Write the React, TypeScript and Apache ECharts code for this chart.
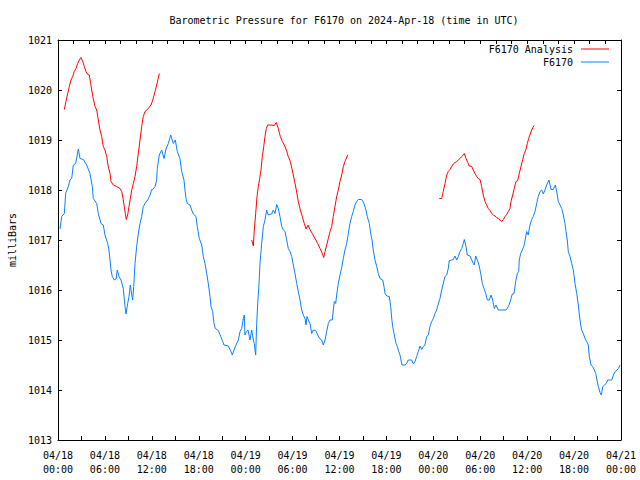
import React, { useEffect, useRef } from "react";
import * as echarts from "echarts";

// Hours since 2024-04-18 00:00 UTC
const stationHours = [
  0.26, 0.47, 0.81, 0.98, 1.32, 1.53, 1.75, 1.96, 2.26, 2.6, 2.81, 3.24, 3.67, 4.09, 4.39, 4.51, 4.95, 5.15, 5.5, 5.79,
  6.01, 6.36, 6.52, 6.65, 6.78, 6.94, 7.2, 7.42, 7.58, 7.8, 8.06, 8.35, 8.57, 8.7, 8.91, 9.08, 9.25, 9.43, 9.55, 9.68,
  9.85, 10.06, 10.27, 10.49, 10.7, 10.91, 11.13, 11.47, 11.77, 11.98, 12.06, 12.41, 12.62, 12.7, 12.95, 13.26, 13.56, 13.81, 14.11, 14.41,
  14.75, 15.0, 15.26, 15.6, 15.82, 16.11, 16.24, 16.37, 16.54, 16.88, 17.1, 17.3, 17.65, 17.81, 18.07, 18.38, 18.58, 18.8, 19.02, 19.22,
  19.44, 19.57, 19.78, 19.95, 20.12, 20.5, 20.81, 21.06, 21.23, 21.78, 22.09, 22.29, 22.51, 22.76, 23.06, 23.28, 23.49, 23.7, 23.83, 23.91,
  24.13, 24.3, 24.46, 24.55, 24.77, 24.98, 25.1, 25.28, 25.41, 25.54, 25.71, 25.83, 26.05, 26.26, 26.47, 26.69, 26.89, 27.33, 27.53, 27.75,
  27.97, 28.17, 28.39, 28.61, 28.81, 29.03, 29.25, 29.45, 29.67, 29.89, 30.09, 30.31, 30.53, 30.73, 30.95, 31.17, 31.37, 31.59, 31.72, 31.84,
  32.01, 32.23, 32.44, 32.65, 32.96, 33.21, 33.51, 33.72, 33.93, 34.15, 34.36, 34.57, 34.79, 35.08, 35.21, 35.34, 35.51, 35.64, 35.85, 36.06,
  36.28, 36.49, 36.7, 36.92, 37.13, 37.34, 37.56, 37.76, 37.98, 38.2, 38.4, 38.84, 39.13, 39.39, 39.55, 39.81, 39.99, 40.16, 40.32, 40.54,
  40.76, 40.96, 41.18, 41.53, 41.69, 41.82, 42.04, 42.37, 42.55, 42.68, 42.8, 43.01, 43.23, 43.39, 43.57, 43.74, 43.86, 43.99, 44.38, 44.59,
  44.8, 45.23, 45.44, 45.66, 45.87, 46.08, 46.3, 46.51, 46.72, 46.93, 47.15, 47.36, 47.57, 47.79, 48.0, 48.21, 48.43, 48.63, 48.85, 49.07,
  49.27, 49.49, 49.71, 49.91, 50.04, 50.35, 50.55, 50.77, 50.99, 51.19, 51.41, 51.63, 51.83, 51.96, 52.18, 52.34, 52.69, 52.91, 53.11, 53.24,
  53.42, 53.62, 53.84, 54.06, 54.26, 54.48, 54.7, 54.9, 55.16, 55.38, 55.59, 55.8, 56.01, 56.31, 56.74, 57.29, 57.46, 57.68, 57.89, 58.1,
  58.32, 58.53, 58.74, 58.92, 58.99, 59.17, 59.38, 59.56, 59.72, 59.94, 60.14, 60.36, 60.58, 60.78, 61.0, 61.22, 61.42, 61.64, 61.86, 62.06,
  62.28, 62.5, 62.79, 63.05, 63.34, 63.6, 63.78, 63.98, 64.2, 64.42, 64.62, 64.84, 64.97, 65.13, 65.26, 65.48, 65.7, 65.9, 66.12, 66.34,
  66.54, 66.67, 66.85, 66.97, 67.18, 67.4, 67.61, 67.82, 67.95, 68.17, 68.38, 68.59, 68.77, 68.93, 69.1, 69.32, 69.49, 69.67, 69.88, 70.1,
  70.31, 70.82, 71.03, 71.25, 71.5, 71.67, 71.89,
];
const stationValues = [
  1017.22, 1017.47, 1017.53, 1017.93, 1018.07, 1018.2, 1018.23, 1018.5, 1018.53, 1018.82, 1018.63, 1018.61, 1018.5, 1018.33, 1018.07, 1017.83, 1017.73, 1017.53, 1017.33, 1017.3,
  1017.1, 1016.93, 1016.8, 1016.6, 1016.4, 1016.27, 1016.2, 1016.22, 1016.4, 1016.27, 1016.2, 1016.03, 1015.67, 1015.52, 1015.73, 1015.87, 1016.1, 1015.9, 1015.8, 1016.07,
  1016.53, 1016.87, 1017.13, 1017.33, 1017.47, 1017.67, 1017.73, 1017.8, 1017.9, 1018.01, 1018.0, 1018.07, 1018.2, 1018.43, 1018.7, 1018.8, 1018.63, 1018.82, 1018.93, 1019.1,
  1018.93, 1019.0, 1018.77, 1018.63, 1018.37, 1018.2, 1018.0, 1017.83, 1017.73, 1017.7, 1017.6, 1017.52, 1017.47, 1017.27, 1017.03, 1016.9, 1016.67, 1016.53, 1016.33, 1016.13,
  1015.87, 1015.67, 1015.57, 1015.33, 1015.23, 1015.19, 1015.07, 1014.97, 1014.9, 1014.88, 1014.78, 1014.7, 1014.8, 1014.9, 1015.0, 1015.17, 1015.23, 1015.43, 1015.5, 1015.1,
  1015.17, 1015.2, 1015.07, 1015.0, 1015.2, 1015.0, 1014.93, 1014.7, 1015.33, 1015.73, 1016.13, 1016.53, 1016.93, 1017.27, 1017.4, 1017.6, 1017.5, 1017.52, 1017.6, 1017.53,
  1017.71, 1017.63, 1017.47, 1017.27, 1017.2, 1017.17, 1017.0, 1016.83, 1016.77, 1016.67, 1016.5, 1016.33, 1016.13, 1015.97, 1015.8, 1015.6, 1015.5, 1015.43, 1015.3, 1015.47,
  1015.4, 1015.33, 1015.13, 1015.2, 1015.19, 1015.1, 1015.02, 1015.0, 1014.9, 1015.0, 1015.17, 1015.33, 1015.4, 1015.4, 1015.6, 1015.77, 1015.73, 1015.9, 1016.13, 1016.3,
  1016.45, 1016.63, 1016.8, 1016.93, 1017.13, 1017.33, 1017.47, 1017.57, 1017.7, 1017.77, 1017.81, 1017.81, 1017.73, 1017.6, 1017.47, 1017.33, 1017.13, 1017.0, 1016.8, 1016.6,
  1016.47, 1016.33, 1016.23, 1016.2, 1016.07, 1015.93, 1015.88, 1015.87, 1015.67, 1015.43, 1015.27, 1015.1, 1014.93, 1014.87, 1014.77, 1014.7, 1014.6, 1014.5, 1014.5, 1014.53,
  1014.6, 1014.6, 1014.52, 1014.57, 1014.67, 1014.77, 1014.88, 1014.81, 1014.87, 1014.9, 1015.07, 1015.1, 1015.27, 1015.37, 1015.43, 1015.53, 1015.6, 1015.72, 1015.83, 1016.0,
  1016.13, 1016.27, 1016.3, 1016.43, 1016.59, 1016.6, 1016.61, 1016.68, 1016.6, 1016.67, 1016.77, 1016.83, 1016.93, 1017.01, 1016.87, 1016.7, 1016.68, 1016.6, 1016.53, 1016.5,
  1016.68, 1016.6, 1016.5, 1016.33, 1016.13, 1016.03, 1015.93, 1015.8, 1015.8, 1015.9, 1015.8, 1015.63, 1015.7, 1015.6, 1015.6, 1015.6, 1015.63, 1015.7, 1015.8, 1015.92,
  1015.93, 1016.17, 1016.33, 1016.37, 1016.6, 1016.73, 1016.8, 1016.87, 1016.98, 1017.17, 1017.1, 1017.3, 1017.41, 1017.47, 1017.57, 1017.73, 1017.87, 1017.97, 1018.0, 1017.92,
  1018.0, 1018.1, 1018.2, 1018.01, 1018.01, 1018.1, 1017.97, 1017.77, 1017.7, 1017.63, 1017.5, 1017.33, 1017.17, 1017.0, 1016.77, 1016.67, 1016.53, 1016.4, 1016.13, 1015.93,
  1015.7, 1015.5, 1015.3, 1015.2, 1015.13, 1015.03, 1014.97, 1014.9, 1014.67, 1014.5, 1014.47, 1014.4, 1014.33, 1014.2, 1014.07, 1013.95, 1013.9, 1014.07, 1014.1, 1014.13,
  1014.2, 1014.2, 1014.3, 1014.37, 1014.4, 1014.43, 1014.5,
];

// Analysis: three runs, separated by gaps (null)
const analysisHours = [
  0.81, 1.02, 1.24, 1.45, 1.66, 1.88, 2.08, 2.3, 2.52, 2.72, 2.94, 3.16, 3.36, 3.58, 3.8, 4.0, 4.18, 4.31, 4.51, 4.73,
  4.95, 5.15, 5.37, 5.59, 5.79, 6.01, 6.23, 6.43, 6.65, 6.78, 7.07, 7.51, 7.93, 8.15, 8.35, 8.48, 8.61, 8.73, 8.91, 9.08,
  9.25, 9.43, 9.63, 9.85, 10.06, 10.27, 10.49, 10.7, 10.91, 11.13, 11.55, 11.89, 12.06, 12.24, 12.41, 12.62, 12.96,
  18.0,
  24.77, 24.98, 25.1, 25.28, 25.45, 25.62, 25.79, 25.96, 26.13, 26.31, 26.47, 26.64, 26.82, 27.24, 27.66, 27.92, 28.17, 28.43, 28.69, 28.94,
  29.2, 29.45, 29.71, 29.96, 30.22, 30.48, 30.73, 30.99, 31.24, 31.5, 31.72, 31.97, 32.23, 32.52, 32.87, 33.21, 33.51, 33.8, 33.98, 34.15,
  34.36, 34.57, 34.79, 35.0, 35.21, 35.42, 35.64, 35.85, 36.06, 36.28, 36.49, 36.7, 37.05,
  42.0,
  48.76, 49.07, 49.27, 49.49, 49.71, 49.91, 50.13, 50.35, 50.55, 50.77, 50.99, 51.19, 51.41, 51.63, 51.83, 51.96, 52.18, 52.4, 52.6, 52.91,
  53.11, 53.33, 53.54, 53.75, 53.97, 54.18, 54.39, 54.61, 54.82, 55.03, 55.25, 55.46, 55.67, 55.89, 56.1, 56.31, 56.53, 56.74, 56.95, 57.17,
  57.38, 57.59, 57.8, 57.93, 58.15, 58.35, 58.57, 58.79, 58.99, 59.21, 59.43, 59.63, 59.85, 60.02, 60.19, 60.58, 60.87,
];
const analysisValues: (number | null)[] = [
  1019.61, 1019.77, 1019.93, 1020.07, 1020.2, 1020.27, 1020.37, 1020.43, 1020.53, 1020.6, 1020.65, 1020.57, 1020.47, 1020.37, 1020.31, 1020.3, 1020.13, 1020.0, 1019.83, 1019.67,
  1019.6, 1019.4, 1019.2, 1019.07, 1018.87, 1018.8, 1018.67, 1018.47, 1018.33, 1018.17, 1018.1, 1018.07, 1018.03, 1017.97, 1017.8, 1017.67, 1017.53, 1017.41, 1017.5, 1017.67,
  1017.83, 1018.0, 1018.13, 1018.27, 1018.47, 1018.73, 1019.0, 1019.27, 1019.47, 1019.57, 1019.63, 1019.7, 1019.77, 1019.87, 1019.97, 1020.1, 1020.33,
  null,
  1017.0, 1016.88, 1017.2, 1017.53, 1017.87, 1018.07, 1018.23, 1018.4, 1018.67, 1018.87, 1019.07, 1019.23, 1019.3, 1019.3, 1019.29, 1019.35, 1019.23, 1019.07, 1018.97, 1018.9,
  1018.8, 1018.67, 1018.57, 1018.4, 1018.2, 1018.0, 1017.77, 1017.6, 1017.47, 1017.33, 1017.22, 1017.3, 1017.21, 1017.13, 1017.03, 1016.93, 1016.83, 1016.73, 1016.65, 1016.77,
  1016.9, 1017.03, 1017.17, 1017.27, 1017.47, 1017.67, 1017.87, 1018.0, 1018.17, 1018.3, 1018.47, 1018.57, 1018.7,
  null,
  1017.83, 1017.83, 1017.97, 1018.13, 1018.3, 1018.37, 1018.41, 1018.47, 1018.52, 1018.55, 1018.57, 1018.6, 1018.63, 1018.67, 1018.7, 1018.73, 1018.63, 1018.55, 1018.48, 1018.47,
  1018.4, 1018.33, 1018.27, 1018.23, 1018.21, 1018.07, 1017.9, 1017.77, 1017.7, 1017.63, 1017.59, 1017.53, 1017.5, 1017.48, 1017.45, 1017.43, 1017.4, 1017.37, 1017.41, 1017.47,
  1017.51, 1017.57, 1017.63, 1017.77, 1017.9, 1018.03, 1018.17, 1018.19, 1018.33, 1018.47, 1018.61, 1018.73, 1018.81, 1018.93, 1019.03, 1019.2, 1019.29,
];

const seriesNames = ["F6170 Analysis", "F6170"];
const seriesColors = ["#ff0000", "#0a80ff"];
const startDay = 18;
const yMin = 1013;
const yMax = 1021;

const FONT = "'DejaVu Sans Mono', 'Liberation Mono', monospace";

function formatHour(h: number): string {
  if (h % 6 !== 0) return "";
  const day = startDay + Math.floor(h / 24);
  const hr = h % 24;
  const p = (n: number) => (n < 10 ? "0" + n : "" + n);
  return `04/${p(day)}\n${p(hr)}:00`;
}

export default function App() {
  const ref = useRef<HTMLDivElement>(null);
  useEffect(() => {
    if (!ref.current) return;
    const chart = echarts.init(ref.current, undefined, { renderer: "svg" });
    const black = { color: "#000", width: 1 };
    chart.setOption({
      animation: false,
      backgroundColor: "#fff",
      textStyle: { fontFamily: FONT },
      title: {
        text: "Barometric Pressure for F6170 on 2024-Apr-18 (time in UTC)",
        left: 339,
        top: 10,
        textAlign: "center",
        textStyle: { fontFamily: FONT, fontSize: 10, fontWeight: "normal", color: "#000" },
      },
      legend: {
        data: seriesNames,
        orient: "vertical",
        align: "right",
        right: 31,
        top: 43,
        icon: "rect",
        itemWidth: 28,
        itemHeight: 1,
        itemGap: 1,
        padding: 0,
        selectedMode: false,
        textStyle: { fontFamily: FONT, fontSize: 10, color: "#000", lineHeight: 12, padding: [0, 3, 0, 0] },
      },
      grid: { left: 58, right: 19, top: 40, bottom: 40, containLabel: false, outerBoundsMode: "none" },
      xAxis: [
        {
          type: "value",
          min: 0,
          max: 72,
          interval: 3,
          position: "bottom",
          axisLine: { show: true, onZero: false, lineStyle: black },
          axisTick: { show: true, inside: true, length: 4, lineStyle: black },
          splitLine: { show: false },
          axisLabel: {
            formatter: formatHour,
            fontFamily: FONT,
            fontSize: 10,
            color: "#000",
            lineHeight: 14,
            margin: 8,
            showMinLabel: true,
            showMaxLabel: true,
          },
        },
        {
          type: "value",
          min: 0,
          max: 72,
          interval: 2,
          position: "top",
          axisLine: { show: true, onZero: false, lineStyle: black },
          axisTick: { show: true, inside: true, length: 4, lineStyle: black },
          splitLine: { show: false },
          axisLabel: { show: false },
        },
      ],
      yAxis: [
        {
          type: "value",
          min: yMin,
          max: yMax,
          interval: 1,
          position: "left",
          name: "milliBars",
          nameLocation: "middle",
          nameGap: 40,
          nameRotate: 90,
          nameTextStyle: { fontFamily: FONT, fontSize: 10, color: "#000" },
          axisLine: { show: true, onZero: false, lineStyle: black },
          axisTick: { show: true, inside: true, length: 4, lineStyle: black },
          splitLine: { show: false },
          axisLabel: {
            fontFamily: FONT,
            fontSize: 10,
            color: "#000",
            margin: 6,
            formatter: (v: number) => String(v),
          },
        },
        {
          type: "value",
          min: yMin,
          max: yMax,
          interval: 1,
          position: "right",
          axisLine: { show: true, onZero: false, lineStyle: black },
          axisTick: { show: true, inside: true, length: 4, lineStyle: black },
          splitLine: { show: false },
          axisLabel: { show: false },
        },
      ],
      series: [
        {
          name: seriesNames[0],
          type: "line",
          xAxisIndex: 0,
          yAxisIndex: 0,
          data: analysisHours.map((h, i) => [h, analysisValues[i] === null ? "-" : analysisValues[i]]),
          showSymbol: false,
          connectNulls: false,
          color: seriesColors[0],
          lineStyle: { width: 1, color: seriesColors[0] },
          emphasis: { disabled: true },
          silent: true,
        },
        {
          name: seriesNames[1],
          type: "line",
          xAxisIndex: 0,
          yAxisIndex: 0,
          data: stationHours.map((h, i) => [h, stationValues[i]]),
          showSymbol: false,
          color: seriesColors[1],
          lineStyle: { width: 1, color: seriesColors[1] },
          emphasis: { disabled: true },
          silent: true,
        },
      ],
    });
    return () => chart.dispose();
  }, []);
  return (
    <div
      ref={ref}
      style={{ position: "fixed", left: 0, top: 0, width: 640, height: 480, background: "#fff" }}
    />
  );
}
